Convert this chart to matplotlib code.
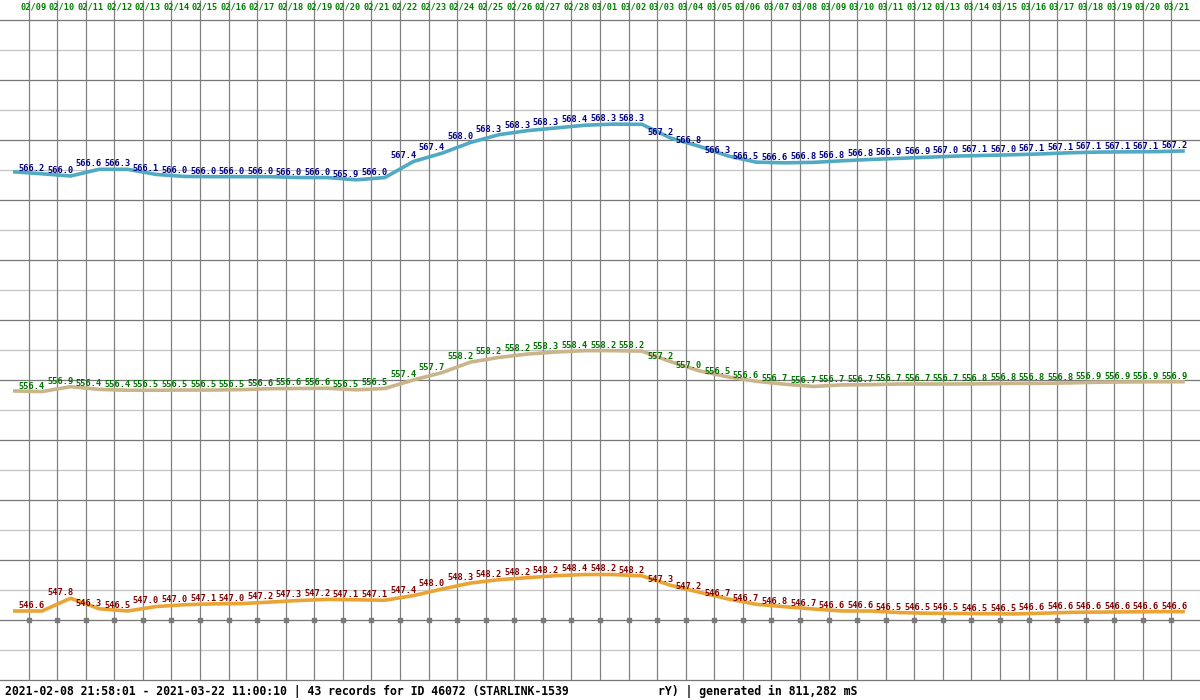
import numpy as np
import matplotlib
matplotlib.use('Agg')
import matplotlib.pyplot as plt
from matplotlib import transforms

# ---------------- data ----------------
day_labels = ['02/09', '02/10', '02/11', '02/12', '02/13', '02/14', '02/15', '02/16',
              '02/17', '02/18', '02/19', '02/20', '02/21', '02/22', '02/23', '02/24',
              '02/25', '02/26', '02/27', '02/28', '03/01', '03/02', '03/03', '03/04',
              '03/05', '03/06', '03/07', '03/08', '03/09', '03/10', '03/11', '03/12',
              '03/13', '03/14', '03/15', '03/16', '03/17', '03/18', '03/19', '03/20',
              '03/21']

# daily values printed on the chart
apogee = [566.2, 566.0, 566.6, 566.3, 566.1, 566.0, 566.0, 566.0, 566.0, 566.0, 566.0,
          565.9, 566.0, 567.4, 567.4, 568.0, 568.3, 568.3, 568.3, 568.4, 568.3, 568.3,
          567.2, 566.8, 566.3, 566.5, 566.6, 566.8, 566.8, 566.8, 566.9, 566.9, 567.0,
          567.1, 567.0, 567.1, 567.1, 567.1, 567.1, 567.1, 567.2]

mean_alt = [556.4, 556.9, 556.4, 556.4, 556.5, 556.5, 556.5, 556.5, 556.6, 556.6, 556.6,
            556.5, 556.5, 557.4, 557.7, 558.2, 558.2, 558.2, 558.3, 558.4, 558.2, 558.2,
            557.2, 557.0, 556.5, 556.6, 556.7, 556.7, 556.7, 556.7, 556.7, 556.7, 556.7,
            556.8, 556.8, 556.8, 556.8, 556.9, 556.9, 556.9, 556.9]

perigee = [546.6, 547.8, 546.3, 546.5, 547.0, 547.0, 547.1, 547.0, 547.2, 547.3, 547.2,
           547.1, 547.1, 547.4, 548.0, 548.3, 548.2, 548.2, 548.2, 548.4, 548.2, 548.2,
           547.3, 547.2, 546.7, 546.7, 546.8, 546.7, 546.6, 546.6, 546.5, 546.5, 546.5,
           546.5, 546.5, 546.6, 546.6, 546.6, 546.6, 546.6, 546.6]

# smoothed curve (record positions in days after 02/09)
curve_day = [-0.545, 0.47, 1.47, 2.47, 3.47, 4.47, 5.47, 6.47, 7.47, 8.47, 9.47,
             10.47, 11.47, 12.47, 13.47, 14.47, 15.47, 16.47, 17.47, 18.47, 19.47,
             20.47, 21.47, 22.47, 23.47, 24.47, 25.47, 26.47, 27.47, 28.47, 29.47,
             30.47, 31.47, 32.47, 33.47, 34.47, 35.47, 36.47, 37.47, 38.47, 39.47, 40.47]

apogee_curve = [566.24, 566.15, 566.05, 566.35, 566.35, 566.12, 566.03, 566.02, 566.02,
                566.02, 565.98, 565.98, 565.88, 565.98, 566.70, 567.07, 567.55, 567.90,
                568.08, 568.20, 568.32, 568.37, 568.36, 567.75, 567.38, 566.95, 566.67,
                566.64, 566.66, 566.73, 566.79, 566.84, 566.89, 566.94, 566.97, 567.00,
                567.04, 567.09, 567.12, 567.13, 567.14, 567.17]

mean_curve = [556.44, 556.41, 556.63, 556.51, 556.47, 556.47, 556.48, 556.48, 556.50,
              556.54, 556.55, 556.56, 556.49, 556.55, 556.93, 557.26, 557.73, 557.94,
              558.09, 558.18, 558.24, 558.24, 558.22, 557.75, 557.34, 557.07, 556.87,
              556.74, 556.64, 556.71, 556.72, 556.75, 556.75, 556.75, 556.76, 556.78,
              556.78, 556.80, 556.83, 556.84, 556.85, 556.85]

perigee_curve = [546.60, 546.60, 547.17, 546.70, 546.60, 546.80, 546.88, 546.92, 546.93,
                 547.00, 547.07, 547.12, 547.10, 547.08, 547.29, 547.58, 547.85, 548.00,
                 548.09, 548.18, 548.23, 548.23, 548.17, 547.75, 547.44, 547.14, 546.90,
                 546.79, 546.69, 546.60, 546.60, 546.53, 546.50, 546.49, 546.48, 546.47,
                 546.50, 546.54, 546.55, 546.56, 546.57, 546.57]

footer_left = "2021-02-08 21:58:01 - 2021-03-22 11:00:10 | 43 records for ID 46072 (STARLINK-1539"
footer_right = "rY) | generated in 811,282 mS"

# ---------------- layout ----------------
W, H = 1200, 700
fig = plt.figure(figsize=(W / 100, H / 100), dpi=100)
fig.patch.set_facecolor('white')
ax = fig.add_axes([0, 0, 1, 1])
ax.set_xlim(-1, 41)
ax.set_ylim(542.62, 573.92)
ax.axis('off')

def fy(ypx):
    return 1 - ypx / H

blend = transforms.blended_transform_factory(ax.transData, ax.transAxes)
mono = 'DejaVu Sans Mono'

# horizontal grid
for k, ypx in enumerate(range(20, 681, 30)):
    col = '#777777' if k % 2 == 0 else '#c4c4c4'
    ax.plot([0, 1], [fy(ypx), fy(ypx)], transform=ax.transAxes, color=col, lw=0.9, zorder=1)

days = np.arange(len(day_labels))
ax.vlines(days, fy(680), 1.0, transform=blend, color='#808080', lw=0.9, zorder=1)
ax.plot(days, [fy(620)] * len(days), transform=blend, ls='', marker='s', ms=2.6,
        color='#7a7a7a', zorder=2)

for d, lab in zip(days, day_labels):
    ax.text(d + 0.17, fy(6.5), lab, transform=blend, ha='center', va='center',
            color='#008000', fontsize=6.2, family=mono, fontweight='bold')

# series
series = [
    (apogee, apogee_curve, '#52a9c2', '#000080'),
    (mean_alt, mean_curve, '#c9b48c', '#007000'),
    (perigee, perigee_curve, '#eaa436', '#800000'),
]
for vals, curve, lc, tc in series:
    ax.plot(curve_day, curve, color=lc, lw=2.6, solid_joinstyle='round',
            solid_capstyle='butt', zorder=3)
    for xd, yv, v in zip(curve_day[1:], curve[1:], vals):
        ax.annotate(f'{v:.1f}', (xd, yv), xytext=(2.0, 2.2), textcoords='offset points',
                    ha='right', va='baseline', color=tc, fontsize=6.2, family=mono,
                    fontweight='bold', zorder=4)

fig.text(5 / W, fy(691), footer_left, ha='left', va='center', fontsize=8.3,
         family=mono, fontweight='bold', color='black')
fig.text(658 / W, fy(691), footer_right, ha='left', va='center', fontsize=8.3,
         family=mono, fontweight='bold', color='black')

fig.savefig('out.png', dpi=100, facecolor='white')
